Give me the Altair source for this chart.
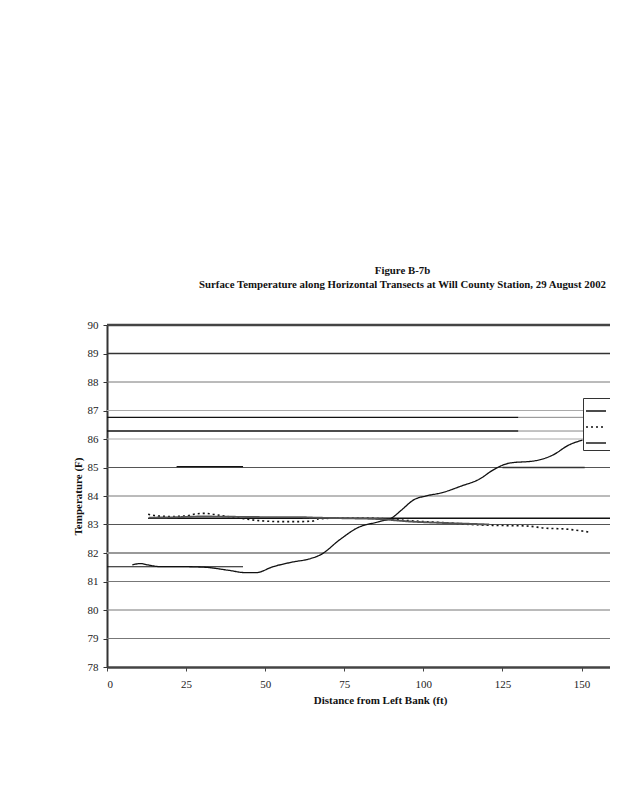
import altair as alt
import pandas as pd

# ---------------- data ----------------
X_MAX = 159
x_ticks = [0, 25, 50, 75, 100, 125, 150]
y_ticks = list(range(78, 91))

series_names = ["Transect 1", "Transect 2", "Transect 3"]

# solid thin curve
a_x = [8, 10.5, 13, 17, 24, 31, 38, 44, 47, 52.5, 59, 63.5, 67.7, 73.5, 79.3, 86,
       90.3, 93, 97.2, 100.8, 106, 112, 117.7, 122, 127, 135.5, 141, 146, 150.3]
a_y = [81.58, 81.63, 81.58, 81.52, 81.52, 81.5, 81.4, 81.31, 81.31, 81.52, 81.69,
       81.78, 81.95, 82.46, 82.89, 83.1, 83.25, 83.5, 83.88, 84.0, 84.12, 84.35,
       84.59, 84.91, 85.15, 85.24, 85.44, 85.79, 85.96]

# dotted
b_x = [13, 16, 20, 25, 28, 31, 34, 38, 42, 46, 50, 55, 60, 65, 67, 72, 80, 88,
       96, 104, 110, 116.6, 122, 127, 132.4, 138.7, 145, 150.3, 153]
b_y = [83.36, 83.3, 83.28, 83.3, 83.37, 83.39, 83.35, 83.28, 83.22, 83.16, 83.12,
       83.1, 83.1, 83.12, 83.2, 83.22, 83.22, 83.2, 83.13, 83.08, 83.04, 82.99,
       82.97, 82.96, 82.95, 82.87, 82.84, 82.77, 82.72]

# thick gray
c_x = [13.3, 20, 30, 40, 50, 60, 66, 75, 86, 96.5, 105, 113, 120.8]
c_y = [83.24, 83.25, 83.28, 83.27, 83.26, 83.26, 83.24, 83.22, 83.19, 83.1,
       83.06, 83.03, 83.0]

# horizontal grid lines
grid_y = [79, 80, 81, 82, 83, 84, 85, 86, 87, 88, 89, 90]
# extra horizontal segments seen on the figure
seg_y = [86.76, 86.28, 86.76, 86.28, 85.03, 85.0, 83.22, 81.52]
seg_x0 = [0, 0, 130, 130, 22, 125, 13, 0]
seg_x1 = [130, 130, X_MAX, X_MAX, 43, 151, X_MAX, 43]

# styles
grid_color = ["#777", "#777", "#777", "#999", "#555", "#777", "#555", "#aaa",
              "#aaa", "#777", "#333", "#444"]
grid_width = [1, 1, 1, 2, 1, 1, 1.2, 1, 1, 1, 1.5, 2.5]
seg_color = ["#111", "#111", "#888", "#888", "#111", "#333", "#111", "#111"]
seg_width = [1.3, 1.3, 1, 1, 1.2, 1.5, 1.3, 1.1]

# ---------------- tables ----------------
rows = []
for name, xs, ys in zip(series_names, [a_x, b_x, c_x], [a_y, b_y, c_y]):
    for i, (xv, yv) in enumerate(zip(xs, ys)):
        rows.append({"series": name, "dist": xv, "temp": yv, "order": i})
lines_df = pd.DataFrame(rows)

grid_df = pd.DataFrame({"y": grid_y, "x0": [0] * len(grid_y),
                        "x1": [X_MAX] * len(grid_y),
                        "c": grid_color, "w": grid_width})
seg_df = pd.DataFrame({"y": seg_y, "x0": seg_x0, "x1": seg_x1,
                       "c": seg_color, "w": seg_width})
rules_df = pd.concat([grid_df, seg_df], ignore_index=True)

xscale = alt.Scale(domain=[0, X_MAX], nice=False, zero=False)
yscale = alt.Scale(domain=[78, 90], nice=False, zero=False)

x_axis = alt.Axis(values=x_ticks, grid=False, domainColor="#444", domainWidth=2.5,
                  tickColor="#444", tickSize=4, labelPadding=7, labelOverlap=False,
                  title="Distance from Left Bank (ft)", titleX=273, titlePadding=5)
y_axis = alt.Axis(values=y_ticks, grid=False, domainColor="#333", domainWidth=2,
                  tickColor="#333", tickSize=4, labelPadding=5, labelOverlap=False,
                  title="Temperature (F)", titlePadding=4)

rule_layers = []
for wv in sorted(set(rules_df["w"])):
    rule_layers.append(
        alt.Chart(rules_df).transform_filter(alt.datum.w == wv)
        .mark_rule(strokeWidth=wv).encode(
            x=alt.X("x0:Q", scale=xscale, axis=x_axis),
            x2="x1:Q",
            y=alt.Y("y:Q", scale=yscale, axis=y_axis),
            stroke=alt.Stroke("c:N", scale=None),
        )
    )

leg = alt.Legend(
    orient="none", legendX=476, legendY=73, title=None,
    symbolType="stroke", symbolSize=400, strokeColor="#333",
    fillColor="white", padding=2, rowPadding=-9, symbolOffset=0,
    labelFont="Liberation Serif", labelFontSize=11, labelOffset=30,
)

lines = alt.Chart(lines_df).mark_line(interpolate="monotone").encode(
    x=alt.X("dist:Q", scale=xscale, axis=x_axis),
    y=alt.Y("temp:Q", scale=yscale, axis=y_axis),
    color=alt.Color("series:N", scale=alt.Scale(domain=series_names,
                    range=["#111", "#111", "#555"]), legend=leg),
    strokeDash=alt.StrokeDash("series:N", scale=alt.Scale(domain=series_names,
                              range=[[1, 0], [2, 3], [1, 0]]), legend=leg),
    strokeWidth=alt.StrokeWidth("series:N", scale=alt.Scale(domain=series_names,
                                range=[1.3, 1.9, 3.2]), legend=leg),
    order="order:Q",
)

chart = alt.layer(*rule_layers, lines).properties(
    width=503, height=342,
    autosize=alt.AutoSizeParams(type="none"),
    padding={"left": 99, "top": 317, "right": 0, "bottom": 60},
    title=alt.Title(
        ["Figure B-7b",
         "Surface Temperature along Horizontal Transects at Will County Station, 29 August 2002"],
        font="Liberation Serif", fontSize=10.8, fontWeight="bold", anchor="middle",
        dx=44, offset=29, lineHeight=14, color="#111"),
).configure_view(stroke=None).configure_axis(
    labelFont="Liberation Serif", labelFontSize=11, labelColor="#222",
    titleFont="Liberation Serif", titleFontSize=11, titleFontWeight="bold",
    titleColor="#111",
)

chart.save("out.html", embed_options={"renderer": "svg", "actions": False})
